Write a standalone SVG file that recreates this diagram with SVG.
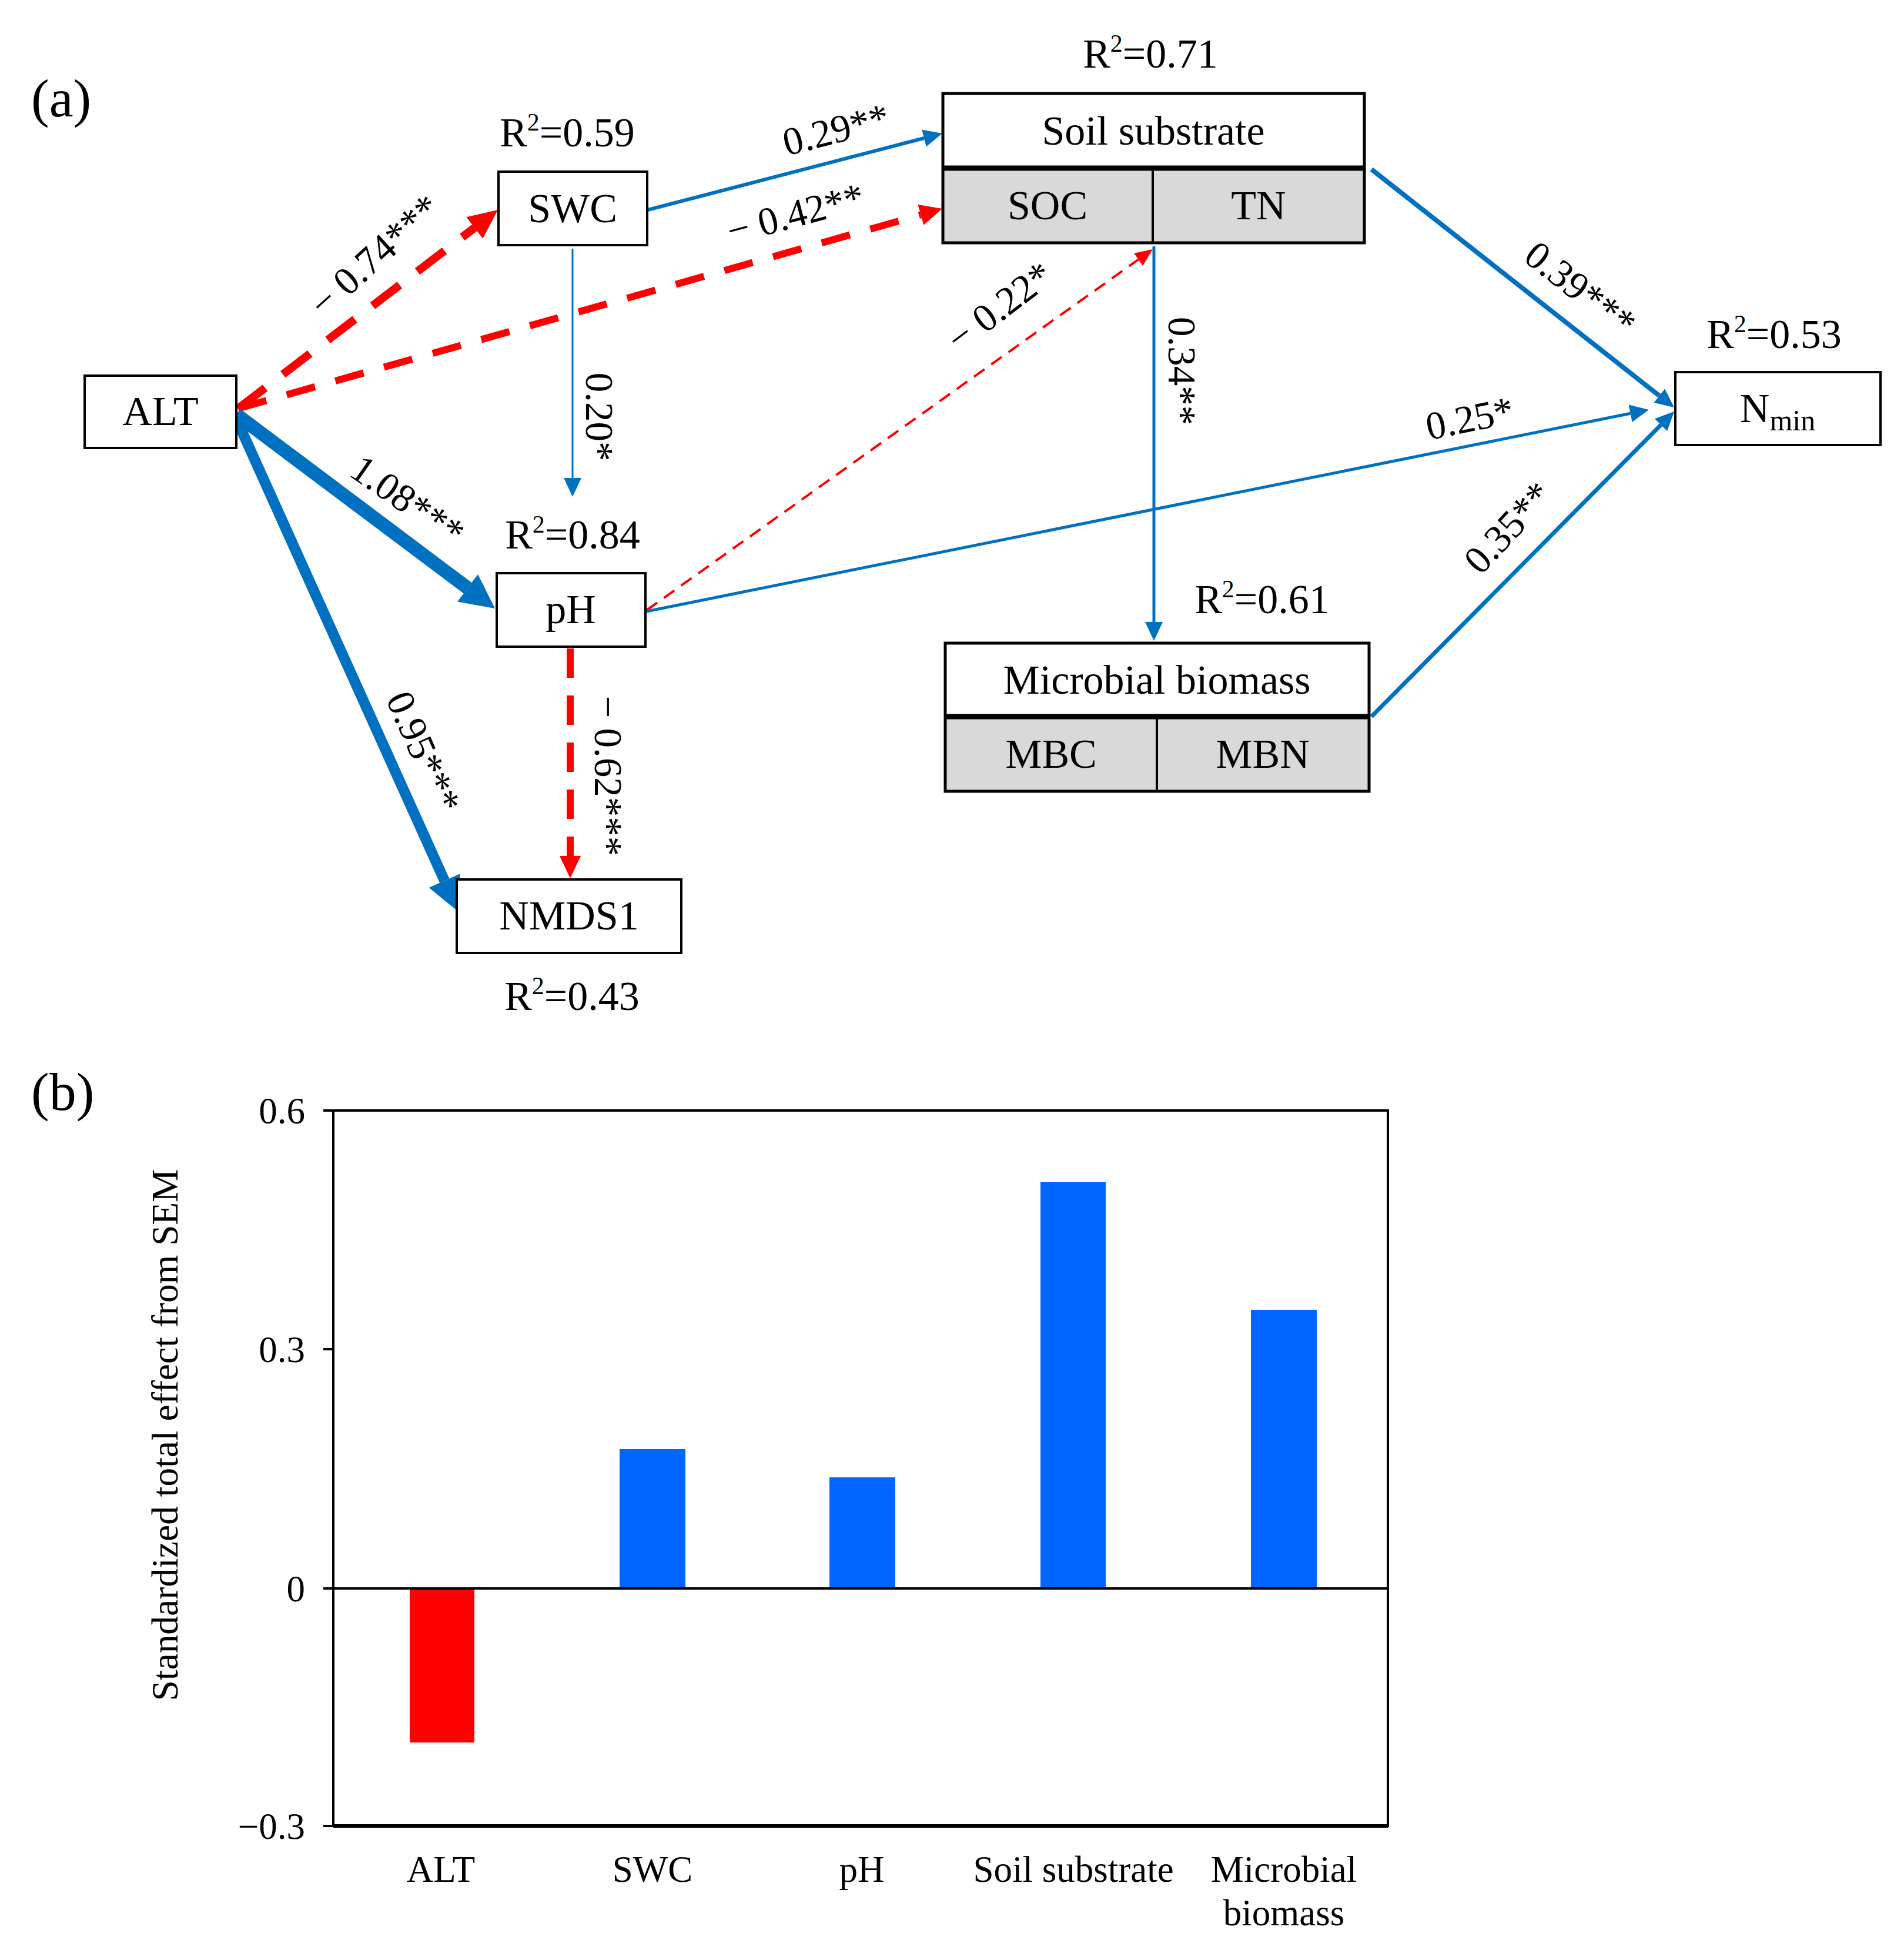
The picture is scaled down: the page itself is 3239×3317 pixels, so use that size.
<svg xmlns="http://www.w3.org/2000/svg" width="3239" height="3317" viewBox="0 0 3239 3317">
<style>
text{font-family:"Liberation Serif","Times New Roman",serif;fill:#000}
.nl{font-size:70px;text-anchor:middle}
.r2{font-size:70px;text-anchor:middle}
.sup{font-size:42px}
.el{font-size:67px;text-anchor:middle;dominant-baseline:central}
.pl{font-size:92px}
.box{fill:#fff;stroke:#000;stroke-width:4}
.cell{fill:#d9d9d9;stroke:#000;stroke-width:4}
.blue{fill:none;stroke:#0070c0}
.red{fill:none;stroke:#ff0000}
.tick{font-size:63px;text-anchor:end}
.cat{font-size:63px;text-anchor:middle}
</style>
<defs>
<marker id="bl" markerUnits="userSpaceOnUse" markerWidth="58" markerHeight="58" refX="0" refY="29" orient="auto" viewBox="0 0 58 58" overflow="visible"><path d="M0,0 L58,29 L0,58 z" fill="#0070c0"/></marker>
<marker id="bm" markerUnits="userSpaceOnUse" markerWidth="32" markerHeight="30" refX="0" refY="15" orient="auto" viewBox="0 0 32 30" overflow="visible"><path d="M0,0 L32,15 L0,30 z" fill="#0070c0"/></marker>
<marker id="rl" markerUnits="userSpaceOnUse" markerWidth="50" markerHeight="46" refX="0" refY="23" orient="auto" viewBox="0 0 50 46" overflow="visible"><path d="M0,0 L50,23 L0,46 z" fill="#ff0000"/></marker>
<marker id="rm" markerUnits="userSpaceOnUse" markerWidth="38" markerHeight="36" refX="0" refY="18" orient="auto" viewBox="0 0 38 36" overflow="visible"><path d="M0,0 L38,18 L0,36 z" fill="#ff0000"/></marker>
<marker id="rs" markerUnits="userSpaceOnUse" markerWidth="30" markerHeight="26" refX="0" refY="13" orient="auto" viewBox="0 0 30 26" overflow="visible"><path d="M0,0 L30,13 L0,26 z" fill="#ff0000"/></marker>
</defs>
<rect width="3239" height="3317" fill="#fff"/>

<text class="pl" x="53" y="198">(a)</text>

<g id="connectors">
<line id="e-alt-swc" class="red" x1="405" y1="695" x2="807.3" y2="387.4" stroke-width="14" stroke-dasharray="58 38" marker-end="url(#rl)"/>
<line id="e-alt-soil" class="red" x1="405" y1="695" x2="1566.4" y2="365.4" stroke-width="12" stroke-dasharray="50 36" marker-end="url(#rm)"/>
<line id="e-swc-soil" class="blue" x1="1102" y1="357" x2="1572" y2="235" stroke-width="6" marker-end="url(#bm)"/>
<line id="e-swc-ph" class="blue" x1="974" y1="423" x2="974" y2="813" stroke-width="3" marker-end="url(#bm)"/>
<line id="e-alt-ph" class="blue" x1="402" y1="705" x2="795.6" y2="1000.2" stroke-width="23" marker-end="url(#bl)"/>
<line id="e-alt-nmds" class="blue" x1="400" y1="708" x2="756.2" y2="1498.1" stroke-width="18" marker-end="url(#bl)"/>
<line id="e-ph-nmds" class="red" x1="970" y1="1103" x2="970" y2="1456" stroke-width="12" stroke-dasharray="50 30" marker-end="url(#rm)"/>
<line id="e-ph-soil" class="red" x1="1100" y1="1038" x2="1936.6" y2="441.4" stroke-width="4" stroke-dasharray="22 14" marker-end="url(#rs)"/>
<line id="e-ph-nmin" class="blue" x1="1100" y1="1040" x2="2773.6" y2="703.3" stroke-width="5" marker-end="url(#bm)"/>
<line id="e-soil-nmin" class="blue" x1="2333" y1="288" x2="2822.8" y2="673.2" stroke-width="8" marker-end="url(#bm)"/>
<line id="e-soil-mb" class="blue" x1="1963" y1="419" x2="1963" y2="1058" stroke-width="5" marker-end="url(#bm)"/>
<line id="e-mb-nmin" class="blue" x1="2333" y1="1219" x2="2825.5" y2="722.7" stroke-width="7" marker-end="url(#bm)"/>
</g>

<g id="edge-labels">
<text class="el" transform="translate(637,434) rotate(-42)">− 0.74***</text>
<text class="el" transform="translate(1353,363) rotate(-15)">− 0.42**</text>
<text class="el" transform="translate(1422,220) rotate(-14.5)">0.29**</text>
<text class="el" transform="translate(1020,709) rotate(90)">0.20*</text>
<text class="el" transform="translate(694,851) rotate(35)">1.08***</text>
<text class="el" transform="translate(721,1279) rotate(66)">0.95***</text>
<text class="el" transform="translate(1035,1320) rotate(90)">− 0.62***</text>
<text class="el" transform="translate(1700,521) rotate(-37)">− 0.22*</text>
<text class="el" transform="translate(2500,711) rotate(-11.4)">0.25*</text>
<text class="el" transform="translate(2689,491) rotate(38)">0.39***</text>
<text class="el" transform="translate(2011,631) rotate(90)">0.34**</text>
<text class="el" transform="translate(2565,897) rotate(-47)">0.35**</text>
</g>

<g id="node-alt">
<rect class="box" x="144" y="639" width="258" height="123"/>
<text class="nl" x="273" y="723">ALT</text>
</g>
<g id="node-swc">
<rect class="box" x="848" y="292" width="253" height="125"/>
<text class="nl" x="974" y="378">SWC</text>
<text class="r2" x="965" y="249">R<tspan class="sup" dy="-27">2</tspan><tspan dy="27">=0.59</tspan></text>
</g>
<g id="node-ph">
<rect class="box" x="845" y="975" width="253" height="125"/>
<text class="nl" x="971" y="1060">pH</text>
<text class="r2" x="974" y="933">R<tspan class="sup" dy="-27">2</tspan><tspan dy="27">=0.84</tspan></text>
</g>
<g id="node-nmds1">
<rect class="box" x="777" y="1496" width="382" height="125"/>
<text class="nl" x="968" y="1581">NMDS1</text>
<text class="r2" x="973" y="1718">R<tspan class="sup" dy="-27">2</tspan><tspan dy="27">=0.43</tspan></text>
</g>
<g id="node-soil">
<rect class="box" x="1604" y="159" width="717" height="254" stroke-width="5"/>
<rect class="cell" x="1604" y="286" width="357" height="127"/>
<rect class="cell" x="1961" y="286" width="360" height="127"/>
<line x1="1602" y1="286" x2="2323" y2="286" stroke="#000" stroke-width="9"/>
<rect x="1604" y="159" width="717" height="254" fill="none" stroke="#000" stroke-width="5"/>
<text class="nl" x="1962" y="246">Soil substrate</text>
<text class="nl" x="1782" y="373">SOC</text>
<text class="nl" x="2141" y="373">TN</text>
<text class="r2" x="1957" y="115">R<tspan class="sup" dy="-27">2</tspan><tspan dy="27">=0.71</tspan></text>
</g>
<g id="node-mb">
<rect class="box" x="1608" y="1094" width="721" height="252" stroke-width="5"/>
<rect class="cell" x="1608" y="1219" width="360" height="127"/>
<rect class="cell" x="1968" y="1219" width="361" height="127"/>
<line x1="1606" y1="1219" x2="2331" y2="1219" stroke="#000" stroke-width="9"/>
<rect x="1608" y="1094" width="721" height="252" fill="none" stroke="#000" stroke-width="5"/>
<text class="nl" x="1968" y="1180">Microbial biomass</text>
<text class="nl" x="1788" y="1306">MBC</text>
<text class="nl" x="2148" y="1306">MBN</text>
<text class="r2" x="2147" y="1043">R<tspan class="sup" dy="-27">2</tspan><tspan dy="27">=0.61</tspan></text>
</g>
<g id="node-nmin">
<rect class="box" x="2850" y="633" width="349" height="124"/>
<text class="nl" x="3024" y="718">N<tspan font-size="50" dy="14">min</tspan></text>
<text class="r2" x="3018" y="592">R<tspan class="sup" dy="-27">2</tspan><tspan dy="27">=0.53</tspan></text>
</g>

<text class="pl" x="53" y="1888">(b)</text>

<g id="chart">
<rect x="697" y="2702" width="110" height="262" fill="#ff0000"/>
<rect x="1054" y="2465" width="112" height="237" fill="#0066ff"/>
<rect x="1411" y="2513" width="112" height="189" fill="#0066ff"/>
<rect x="1770" y="2011" width="111" height="691" fill="#0066ff"/>
<rect x="2128" y="2228" width="112" height="474" fill="#0066ff"/>
<rect x="567" y="1889" width="1794" height="1217" fill="none" stroke="#000" stroke-width="4"/>
<line x1="567" y1="3106" x2="2361" y2="3106" stroke="#000" stroke-width="6"/>
<line x1="567" y1="2702" x2="2361" y2="2702" stroke="#000" stroke-width="4"/>
<g stroke="#000" stroke-width="4">
<line x1="550" y1="1889" x2="567" y2="1889"/>
<line x1="550" y1="2295" x2="567" y2="2295"/>
<line x1="550" y1="2702" x2="567" y2="2702"/>
<line x1="550" y1="3106" x2="567" y2="3106"/>
</g>
<text class="tick" x="519" y="1911">0.6</text>
<text class="tick" x="519" y="2317">0.3</text>
<text class="tick" x="519" y="2724">0</text>
<text class="tick" x="519" y="3128">−0.3</text>
<text class="cat" x="750" y="3201">ALT</text>
<text class="cat" x="1110" y="3201">SWC</text>
<text class="cat" x="1466" y="3201">pH</text>
<text class="cat" x="1826" y="3201">Soil substrate</text>
<text class="cat" x="2184" y="3201">Microbial</text>
<text class="cat" x="2184" y="3275">biomass</text>
<text font-size="64" text-anchor="middle" textLength="905" lengthAdjust="spacingAndGlyphs" transform="translate(302,2441) rotate(-90)">Standardized total effect from SEM</text>
</g>
</svg>
